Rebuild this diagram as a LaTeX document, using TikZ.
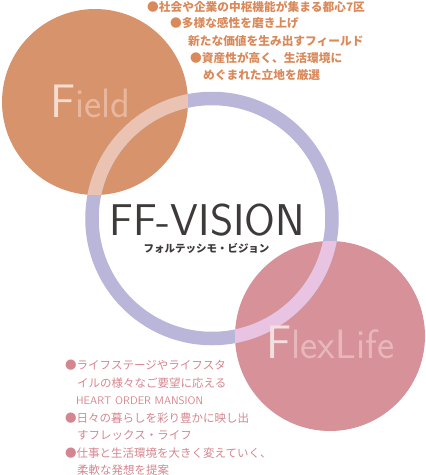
\documentclass[tikz,border=0pt]{standalone}
\usepackage{fontspec}
\newfontfamily\jpfont{Noto Sans CJK JP}
\usepackage{xcolor}
\usetikzlibrary{positioning}

\definecolor{fieldorange}{HTML}{D7936B}
\definecolor{flexpink}{HTML}{D69298}
\definecolor{ringlav}{HTML}{B9B6DA}
\definecolor{ringpeach}{HTML}{EBC3B2}
\definecolor{ringmauve}{HTML}{E9C4E2}
\definecolor{fieldtxt}{HTML}{D9895A}
\definecolor{flextxt}{HTML}{D4868F}
\definecolor{titlegray}{HTML}{3E3A3A}

\begin{document}
\begin{tikzpicture}[x=1pt, y=-1pt,
  fieldline/.style={anchor=west, inner sep=0pt, text=fieldtxt, font=\jpfont\bfseries\fontsize{11.7}{14}\selectfont},
  flexline/.style={anchor=west, inner sep=0pt, text=flextxt, font=\jpfont\fontsize{11.5}{14}\selectfont},
  ringline/.style={line width=13.5pt}]
  \useasboundingbox (0,0) rectangle (426,475);

  % the two circles
  \fill [fieldorange] (95,102) circle (93pt);
  \fill [flexpink] (330,336) circle (95pt);

  % the ring, lighter where it crosses a circle
  \draw [ringline, ringlav] (212,218.5) circle (120pt);
  \begin{scope}
    \clip (95,102) circle (93pt);
    \draw [ringline, ringpeach] (212,218.5) circle (120pt);
  \end{scope}
  \begin{scope}
    \clip (330,336) circle (95pt);
    \draw [ringline, ringmauve] (212,218.5) circle (120pt);
  \end{scope}

  % circle names
  \node [anchor=base west, inner sep=0pt] (field) at (50,117)
  {\sffamily\fontsize{47}{47}\selectfont\textcolor[HTML]{F4DDD0}{F}\fontsize{41}{41}\selectfont\textcolor[HTML]{E8B79D}{ield}};
  \node [anchor=base west, inner sep=0pt] (flexlife) at (266,358)
  {\sffamily\fontsize{47}{47}\selectfont\textcolor[HTML]{F3DEE1}{F}\fontsize{41}{41}\selectfont\textcolor[HTML]{E7B7BC}{lexLife}};

  % title
  \node [anchor=base west, inner sep=0pt, text=titlegray] (title) at (109,235)
  {\sffamily\fontsize{44.5}{44.5}\selectfont FF-VISION};
  \node [inner sep=0pt, text=titlegray] (subtitle) at (206.5,248)
  {\jpfont\bfseries\fontsize{10.5}{12}\selectfont フォルテッシモ・ビジョン};

  % Field notes
  \node [fieldline] (ftop1) at (147,7) {●社会や企業の中枢機能が集まる都心7区};
  \node [fieldline] (ftop2) at (170,23) {●多様な感性を磨き上げ};
  \node [fieldline] (ftop3) at (188,41) {新たな価値を生み出すフィールド};
  \node [fieldline] (ftop4) at (190,58) {●資産性が高く、生活環境に};
  \node [fieldline] (ftop5) at (203,75) {めぐまれた立地を厳選};

  % FlexLife notes
  \node [flexline] (fbot1) at (65,365) {●ライフステージやライフスタ};
  \node [flexline] (fbot2) at (77,383) {イルの様々なご要望に応える};
  \node [anchor=west, inner sep=0pt, text=flextxt] (fbot3) at (76,401)
  {\sffamily\fontsize{11}{13}\selectfont HEART ORDER MANSION};
  \node [flexline] (fbot4) at (65,418) {●日々の暮らしを彩り豊かに映し出};
  \node [flexline] (fbot5) at (77,435) {すフレックス・ライフ};
  \node [flexline] (fbot6) at (65,453) {●仕事と生活環境を大きく変えていく、};
  \node [flexline] (fbot7) at (77,470) {柔軟な発想を提案};
\end{tikzpicture}
\end{document}
